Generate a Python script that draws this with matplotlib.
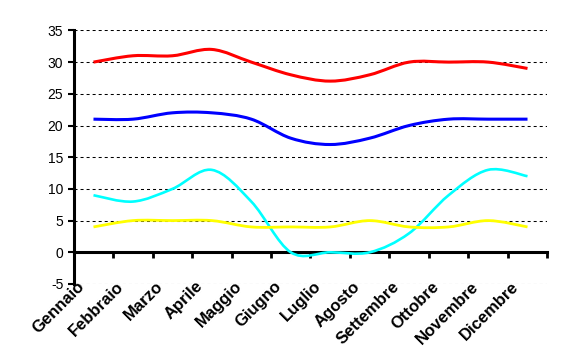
import matplotlib
matplotlib.use("Agg")
import matplotlib.pyplot as plt
from matplotlib.path import Path
from matplotlib.patches import PathPatch
from matplotlib.transforms import ScaledTranslation
import numpy as np

plt.rcParams['font.family'] = ['Liberation Sans', 'DejaVu Sans']
plt.rcParams['axes.unicode_minus'] = False

# Data
months = ["Gennaio", "Febbraio", "Marzo", "Aprile", "Maggio", "Giugno",
          "Luglio", "Agosto", "Settembre", "Ottobre", "Novembre", "Dicembre"]
red_vals = [30, 31, 31, 32, 30, 28, 27, 28, 30, 30, 30, 29]
blue_vals = [21, 21, 22, 22, 21, 18, 17, 18, 20, 21, 21, 21]
cyan_vals = [9, 8, 10, 13, 8, 0, 0, 0, 3, 9, 13, 12]
yellow_vals = [4, 5, 5, 5, 4, 4, 4, 5, 4, 4, 5, 4]


def smooth_path(xs, ys):
    # Excel-style smoothed line: cubic Bezier segments (Catmull-Rom tangents)
    pts = np.column_stack([xs, ys]).astype(float)
    ext = np.vstack([pts[0], pts, pts[-1]])
    verts = [pts[0]]
    codes = [Path.MOVETO]
    for i in range(len(pts) - 1):
        p0, p1, p2, p3 = ext[i], ext[i + 1], ext[i + 2], ext[i + 3]
        verts += [p1 + (p2 - p0) / 6, p2 - (p3 - p1) / 6, p2]
        codes += [Path.CURVE4] * 3
    return Path(verts, codes)


fig = plt.figure(figsize=(5.63, 3.62), dpi=100)
ax = fig.add_axes([0.131, 0.2155, 0.841, 0.7005])

x = np.arange(len(months)) + 0.5
series = [(red_vals, '#FF0000', 2.2), (blue_vals, '#0000FF', 2.2),
          (cyan_vals, '#00FFFF', 1.9), (yellow_vals, '#FFFF00', 2.0)]
for vals, col, lw in series:
    ax.add_patch(PathPatch(smooth_path(x, vals), fill=False, edgecolor=col,
                           linewidth=lw, capstyle='butt', zorder=3))

ax.set_xlim(0, len(months))
ax.set_ylim(-5, 35)
ax.set_yticks(range(-5, 36, 5))

# dashed horizontal gridlines
ax.grid(axis='y', linestyle=(0, (2.9, 2.9)), color='black', linewidth=0.75)
ax.set_axisbelow(True)

for s in ['top', 'right']:
    ax.spines[s].set_visible(False)
ax.spines['left'].set_linewidth(2.2)
ax.spines['bottom'].set_linewidth(2.2)
ax.spines['bottom'].set_position(('data', 0))

ax.set_xticks(np.arange(0, len(months) + 1), minor=True)
ax.set_xticks(x)
ax.set_xticklabels(months, rotation=45, ha='right', va='top',
                   rotation_mode='anchor', fontweight='bold', fontsize=12)
ax.tick_params(axis='x', which='major', length=0, pad=19)
ax.tick_params(axis='x', which='minor', length=4, width=2, direction='out')
ax.tick_params(axis='y', length=4, width=1.5, direction='out', labelsize=10)

# shift the rotated month labels a little to the left, like the original
shift = ScaledTranslation(-0.17, 0, fig.dpi_scale_trans)
for lab in ax.get_xticklabels():
    lab.set_transform(lab.get_transform() + shift)

fig.savefig('out.png', dpi=100)
